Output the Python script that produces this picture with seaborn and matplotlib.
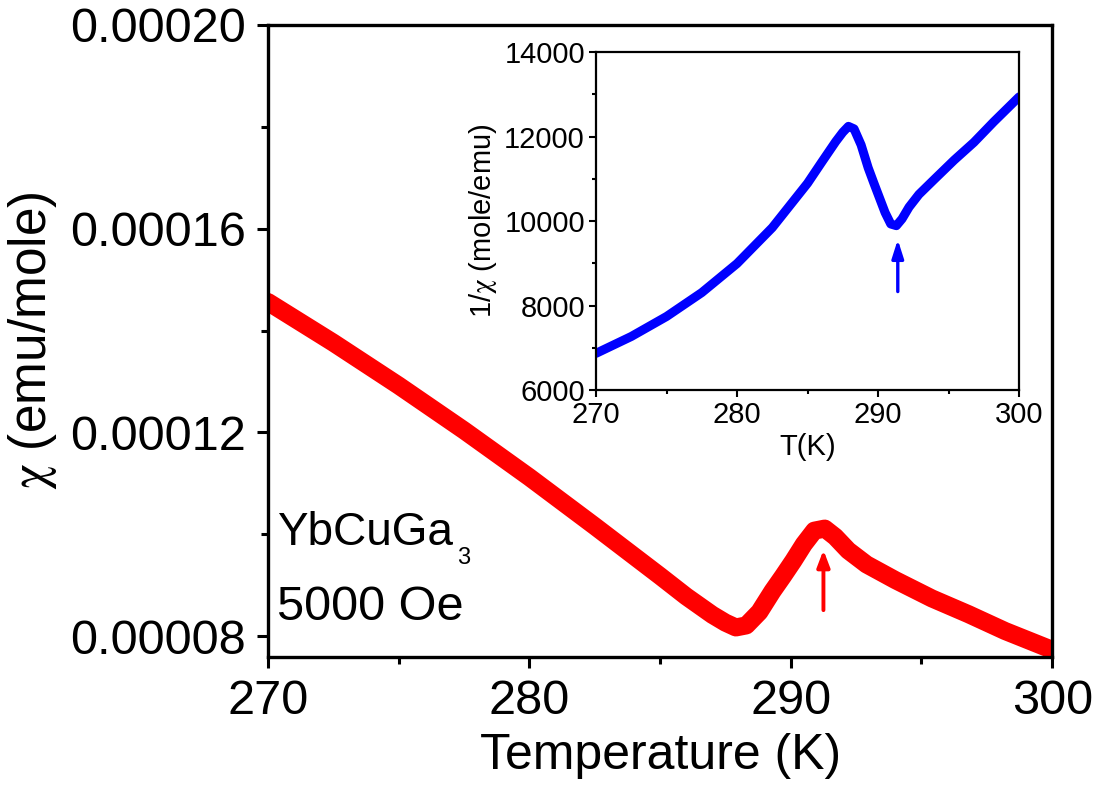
import matplotlib
matplotlib.use("Agg")
import matplotlib.pyplot as plt
from matplotlib.ticker import MultipleLocator, FormatStrFormatter
import pandas as pd
import seaborn as sns

# Temperature sweep (K) and inverse molar susceptibility (mole/emu) of YbCuGa3 at 5000 Oe
temperature = [270.0, 272.5, 275.0, 277.5, 280.0, 282.5, 285.0, 286.0, 287.0,
               287.5, 287.9, 288.3, 288.8, 289.3, 289.7, 290.1, 290.5, 290.9,
               291.3, 291.7, 292.2, 292.9, 294.0, 295.4, 296.8, 298.2, 300.0]
inverse_chi = [6868, 7267, 7740, 8306, 8993, 9843, 10893, 11390, 11880,
               12100, 12240, 12180, 11800, 11260, 10900, 10550, 10200, 9930,
               9890, 10050, 10330, 10630, 10989, 11442, 11862, 12346, 12937]
chi = [1.0 / v for v in inverse_chi]

# Transition markers (arrow tail -> head)
main_arrow_T = 291.25
main_arrow_chi = [0.0000851, 0.0000969]
inset_arrow_T = 291.4
inset_arrow_inv = [8330, 9560]

main_xticks = [270, 280, 290, 300]
main_yticks = [0.00008, 0.00012, 0.00016, 0.00020]
inset_yticks = [6000, 8000, 10000, 12000, 14000]

df = pd.DataFrame({"T": temperature, "chi": chi, "inv": inverse_chi})

sns.set_style("ticks")
plt.rcParams["font.family"] = ["Liberation Sans", "DejaVu Sans"]
plt.rcParams["mathtext.fontset"] = "stix"
for key in ["text.color", "axes.labelcolor", "xtick.color", "ytick.color",
            "axes.edgecolor"]:
    plt.rcParams[key] = "black"

fig = plt.figure(figsize=(10.96, 7.95), dpi=100)
ax = fig.add_axes([0.2445, 0.1736, 0.7155, 0.795])

sns.lineplot(data=df, x="T", y="chi", ax=ax, color="#ff0000", linewidth=13,
             solid_capstyle="round", solid_joinstyle="round", sort=False)
ax.set_xlim(270, 300)
ax.set_ylim(0.0000759, 0.00020)
ax.set_xticks(main_xticks)
ax.set_yticks(main_yticks)
ax.xaxis.set_minor_locator(MultipleLocator(5))
ax.yaxis.set_minor_locator(MultipleLocator(0.00002))
ax.yaxis.set_major_formatter(FormatStrFormatter("%.5f"))
ax.tick_params(which="major", direction="out", length=8, width=2.2,
               labelsize=35, pad=8)
ax.tick_params(which="minor", direction="out", length=5, width=2.2)
for s in ax.spines.values():
    s.set_visible(True)
    s.set_linewidth(2.4)
ax.set_xlabel("Temperature (K)", fontsize=36, labelpad=6)
ax.set_ylabel(r"$\mathrm{\chi}$ (emu/mole)", fontsize=37, labelpad=8)

compound = ax.text(0.012, 0.177, "YbCuGa", transform=ax.transAxes,
                   fontsize=33, ha="left", va="baseline")
ax.annotate("3", xy=(1.0, 0.0), xycoords=compound, xytext=(3, -10),
            textcoords="offset points", fontsize=17, ha="left", va="bottom")
ax.text(0.012, 0.0585, "5000 Oe", transform=ax.transAxes,
        fontsize=35, ha="left", va="baseline")

ax.annotate("", xy=(main_arrow_T, main_arrow_chi[1]),
            xytext=(main_arrow_T, main_arrow_chi[0]),
            arrowprops=dict(arrowstyle="-|>,head_length=1.0,head_width=0.38",
                            color="#ff0000", lw=2.8, shrinkA=0, shrinkB=0))

# Inset: inverse susceptibility
ins = fig.add_axes([0.5438, 0.5094, 0.386, 0.4252])
sns.lineplot(data=df, x="T", y="inv", ax=ins, color="#0000ff", linewidth=6.5,
             solid_capstyle="round", solid_joinstyle="round", sort=False)
ins.set_xlim(270, 300)
ins.set_ylim(6000, 14000)
ins.set_xticks(main_xticks)
ins.set_yticks(inset_yticks)
ins.xaxis.set_minor_locator(MultipleLocator(5))
ins.yaxis.set_minor_locator(MultipleLocator(1000))
ins.tick_params(which="major", direction="out", length=5, width=1.5,
                labelsize=21, pad=3)
ins.tick_params(which="minor", direction="out", length=3, width=1.5)
for s in ins.spines.values():
    s.set_visible(True)
    s.set_linewidth(1.6)
ins.set_xlabel("T(K)", fontsize=21, labelpad=3)
ins.set_ylabel(r"1/$\mathrm{\chi}$ (mole/emu)", fontsize=21, labelpad=4)
ins.annotate("", xy=(inset_arrow_T, inset_arrow_inv[1]),
             xytext=(inset_arrow_T, inset_arrow_inv[0]),
             arrowprops=dict(arrowstyle="-|>,head_length=1.1,head_width=0.35",
                             color="#0000ff", lw=2.4, shrinkA=0, shrinkB=0))

fig.savefig("out.png", dpi=100)
